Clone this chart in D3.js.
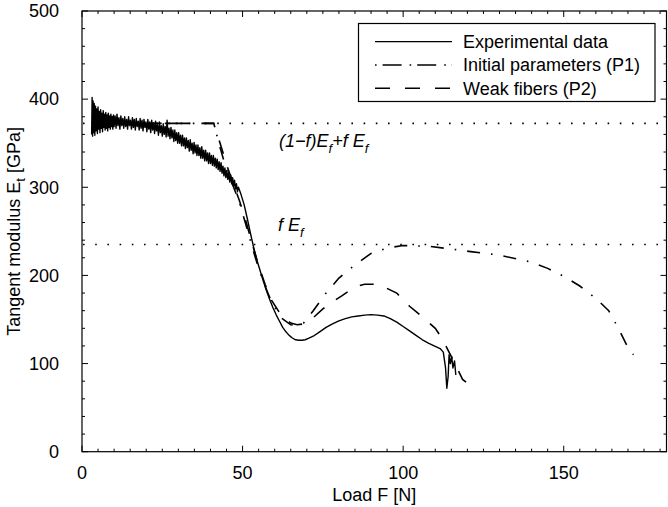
<!DOCTYPE html>
<html><head><meta charset="utf-8">
<script src="https://cdn.jsdelivr.net/npm/d3@7"></script>
<style>body{margin:0;background:#fff}svg{display:block;font-family:"Liberation Sans",Arial,Helvetica,sans-serif}</style>
</head><body><svg id="c" width="668" height="507"></svg>
<script>
// ---- data ----
const xTicks = [0, 50, 100, 150];
const yTicks = [0, 100, 200, 300, 400, 500];
const seriesNames = ["Experimental data", "Initial parameters (P1)", "Weak fibers (P2)"];
const refLevels = [372.5, 235];

const experimental = [
[3.0,360],[3.15,402],[3.3,358],[3.45,398],[3.6,362],[3.8,395],[4.0,359],[4.2,392],[4.4,364],[4.6,389],[4.8,361],[5.0,391],[5.2,366],[5.4,386],[5.6,362],[5.8,388],[6.0,367],[6.2,384],[6.4,363],[6.6,387],[6.8,368],[7.0,383],[7.2,365],[7.4,385],[7.6,367],[7.8,382],[8.0,364],[8.2,384],[8.4,368],[8.6,381],[8.8,366],[9.0,383],[9.2,369],[9.4,380],[9.6,366],[9.8,382],[10.0,369],[10.3,381],[10.6,367],[10.9,383],[11.2,370],[11.5,379],[11.8,366],[12.1,381],[12.4,370],[12.7,378],[13.0,367],[13.3,380],[13.6,369],[13.9,377],[14.2,366],[14.5,380],[14.8,370],[15.1,376],[15.4,366],[15.7,379],[16.0,368],[16.3,377],[16.6,365],[16.9,378],[17.2,369],[17.5,375],[17.8,365],[18.1,378],[18.4,367],[18.7,376],[19.0,364],[19.3,377],[19.6,368],[19.9,374],[20.2,363],[20.5,377],[20.8,366],[21.1,374],[21.4,362],[21.7,376],[22.0,365],[22.3,373],[22.6,361],[22.9,375],[23.2,364],[23.5,371],[23.8,359],[24.1,374],[24.4,362],[24.7,370],[25.0,358],[25.3,372],[25.6,360],[25.9,369],[26.2,357],[26.5,376],[26.8,358],[27.1,367],[27.4,355],[27.7,368],[28.0,356],[28.3,365],[28.6,352],[28.9,365],[29.2,353],[29.5,362],[29.8,350],[30.1,362],[30.4,350],[30.7,359],[31.0,347],[31.3,359],[31.6,347],[31.9,356],[32.2,344],[32.5,356],[32.8,345],[33.1,353],[33.4,341],[33.7,354],[34.0,342],[34.3,350],[34.6,338],[34.9,351],[35.2,339],[35.5,348],[35.8,336],[36.1,348],[36.4,336],[36.7,345],[37.0,333],[37.3,346],[37.6,333],[37.9,342],[38.2,330],[38.5,342],[38.8,330],[39.1,339],[39.4,327],[39.7,339],[40.0,327],[40.3,336],[40.6,325],[40.9,336],[41.2,324],[41.5,333],[41.8,322],[42.1,332],[42.4,320],[42.7,329],[43.0,318],[43.3,328],[43.6,316],[43.9,324],[44.2,313],[44.5,322],[44.8,311],[45.1,319],[45.4,309],[45.7,317],[46.0,306],[46.3,314],[46.6,304],[46.9,311],[47.2,301],[47.5,308],[47.8,298],[48.1,304],[48.4,295],[48.7,300],
[49.5,292],[50.5,280],[51.5,264],[52.5,247],[53.5,231],[54.5,217],[55.5,205],[56.5,193],[57.5,182],[58.5,172],[59.5,163],[60.5,155],[61.5,148],[62.5,141],[63.5,136],[64.5,132],[65.5,129],[66.5,127],[67.5,126.5],[68.5,126.5],[69.5,127],[70.5,128.5],[72,131],[74,136],[76,141],[78,145],[80,148.5],[82,151],[84,153],[86,154],[88,155],[90,155.5],[92,155],[94,154],[96,151],[98,147],[100,142],[102,137],[104,132],[106,127],[108,123],[110,119.5],[111.5,117],[112.5,113],[113.2,95],[113.6,72],[114.0,85],[114.3,110],[114.7,100],[115.1,108],[115.5,95],[116.0,103],[116.4,87]
];
const p1 = [[3,372.5],[41,372.5],[43,345],[45,320],[47,302],[49,283],[51,258],[53,232],[55,208],[57,188],[59,170],[62,152],[65,144],[67,143],[69,146],[72,160],[76,180],[80,197],[85,212],[90,225],[95,231],[100,234],[108,233],[115,230],[121,227],[130,223],[140,215],[145,208],[150,199],[155,188],[160,174],[164,160],[167,140],[169.6,121],[171.7,110]];
const p2 = [[3,372.5],[41,372.5],[43,350],[45,326],[47,305],[49,285],[51,262],[53,236],[55,211],[57,190],[59,172],[62,155],[65,146],[67,144],[69,145],[72,152],[75,162],[78,170],[81,177],[85,187],[88,190],[91,190],[94,187],[98,180],[102,165],[106,153],[110,140],[112,129],[115,108],[118.5,82],[119.6,79]];

// ---- layout ----
const svg = d3.select("#c");
const L = 82, R = 666.5, T = 11, B = 451.7;
const x = d3.scaleLinear().domain([0, 182]).range([L, R]);
const y = d3.scaleLinear().domain([0, 500]).range([B, T]);
const FS = 18;

svg.append("clipPath").attr("id","clip").append("rect").attr("x",L).attr("y",T).attr("width",R-L).attr("height",B-T);
const plot = svg.append("g").attr("clip-path","url(#clip)");

refLevels.forEach(v => {
  plot.append("line").attr("x1",L+1).attr("x2",R).attr("y1",y(v)).attr("y2",y(v))
    .attr("stroke","#000").attr("stroke-width",1.6).attr("stroke-dasharray","1.6,10.6");
});

const line = d3.line().x(d=>x(d[0])).y(d=>y(d[1]));
plot.append("path").datum(p2).attr("d",line).attr("fill","none").attr("stroke","#000").attr("stroke-width",1.6).attr("stroke-dasharray","14,14");
plot.append("path").datum(p1).attr("d",line).attr("fill","none").attr("stroke","#000").attr("stroke-width",1.6).attr("stroke-dasharray","13,11,1.6,11");
plot.append("path").datum(experimental).attr("d",line).attr("fill","none").attr("stroke","#000").attr("stroke-width",1.4).attr("stroke-linejoin","round");

svg.append("rect").attr("x",L).attr("y",T).attr("width",R-L).attr("height",B-T).attr("fill","none").attr("stroke","#000").attr("stroke-width",1.2);

const g = svg.append("g").attr("stroke","#000").attr("stroke-width",1);
d3.range(0, 182, 5).forEach(v => {
  const len = v % 50 === 0 ? 6 : 3;
  g.append("line").attr("x1",x(v)).attr("x2",x(v)).attr("y1",B).attr("y2",B-len);
  g.append("line").attr("x1",x(v)).attr("x2",x(v)).attr("y1",T).attr("y2",T+len);
});
d3.range(0, 501, 20).forEach(v => {
  const len = v % 100 === 0 ? 6 : 3;
  g.append("line").attr("y1",y(v)).attr("y2",y(v)).attr("x1",L).attr("x2",L+len);
  g.append("line").attr("y1",y(v)).attr("y2",y(v)).attr("x1",R).attr("x2",R-len);
});

svg.append("g").selectAll("text").data(xTicks).join("text")
  .attr("x",d=>x(d)).attr("y",B+27).attr("text-anchor","middle").attr("font-size",FS).text(d=>d);
svg.append("g").selectAll("text").data(yTicks).join("text")
  .attr("x",59).attr("y",d=>y(d)).attr("dy","0.35em").attr("text-anchor","end").attr("font-size",FS).text(d=>d);

svg.append("text").attr("x",(L+R)/2).attr("y",501).attr("text-anchor","middle").attr("font-size",FS).text("Load F [N]");
const yl = svg.append("text").attr("transform",`translate(20,${(T+B)/2}) rotate(-90)`).attr("text-anchor","middle").attr("font-size",FS);
yl.append("tspan").text("Tangent modulus E");
yl.append("tspan").attr("font-size",13).attr("dy",5).text("t");
yl.append("tspan").attr("dy",-5).text(" [GPa]");

function annot(xp, yp, parts){
  const t = svg.append("text").attr("x",xp).attr("y",yp).attr("font-size",FS).attr("font-style","italic");
  parts.forEach(p => {
    const s = t.append("tspan").text(p.t);
    if (p.sub) s.attr("font-size",13).attr("dy",6);
    if (p.up) s.attr("dy",-6);
  });
}
annot(279, 147, [{t:"(1−f)E"},{t:"f",sub:true},{t:"+f E",up:true},{t:"f",sub:true}]);
annot(278, 231, [{t:"f E"},{t:"f",sub:true}]);

const lg = svg.append("g");
lg.append("rect").attr("x",358.5).attr("y",23.5).attr("width",296.5).attr("height",78).attr("fill","#fff").attr("stroke","#000").attr("stroke-width",1.2);
const dashes = [null, "1.6,6,19,8", "15,15"];
const rows = [41.7, 65, 88.3];
seriesNames.forEach((n,i) => {
  const l = lg.append("line").attr("x1",375).attr("x2",452).attr("y1",rows[i]).attr("y2",rows[i]).attr("stroke","#000").attr("stroke-width",i?1.6:1.2);
  if (dashes[i]) l.attr("stroke-dasharray",dashes[i]);
  lg.append("text").attr("x",463).attr("y",rows[i]).attr("dy","0.35em").attr("font-size",FS).text(n);
});
</script></body></html>
